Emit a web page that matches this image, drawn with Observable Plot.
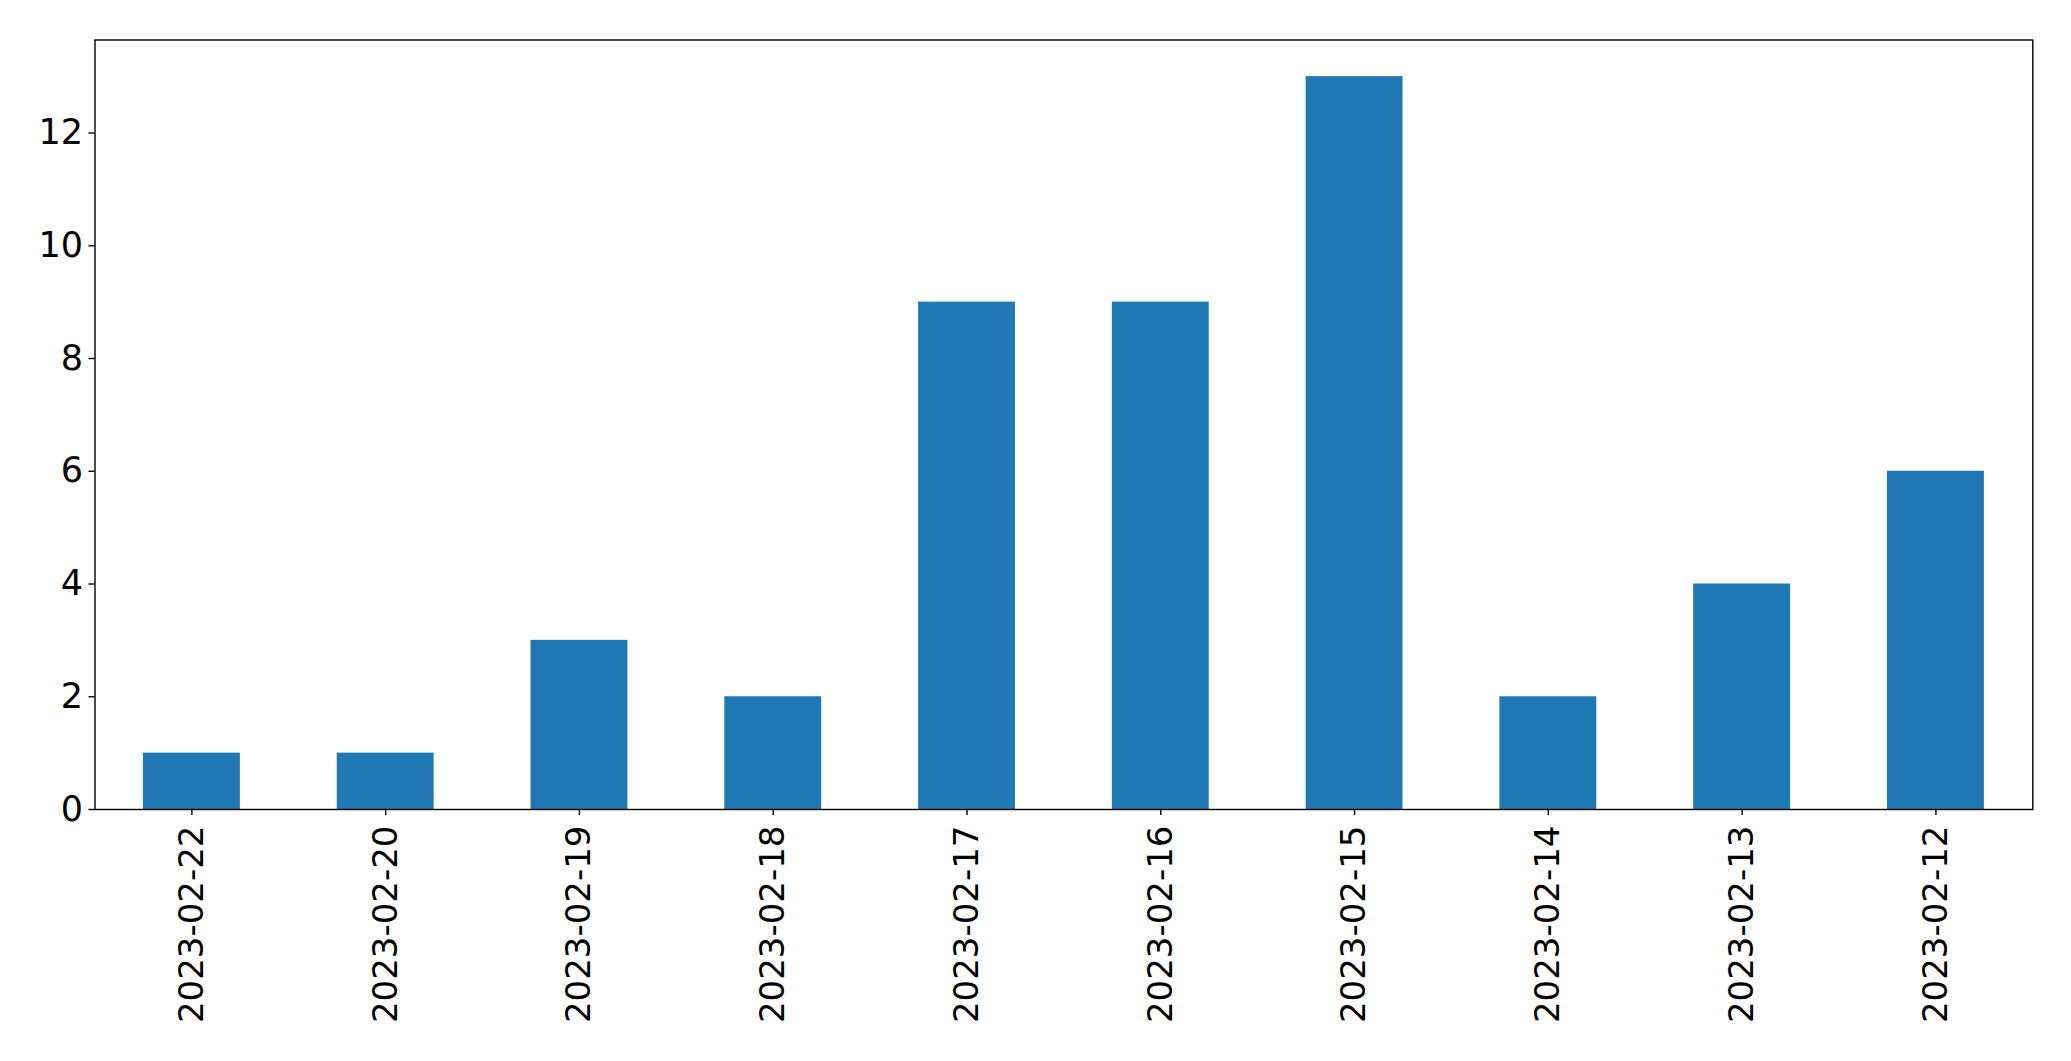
<!DOCTYPE html>
<html>
<head>
<meta charset="utf-8">
<script src="https://cdn.jsdelivr.net/npm/d3@7"></script>
<script src="https://cdn.jsdelivr.net/npm/@observablehq/plot@0.6"></script>
<style>
  html, body { margin: 0; padding: 0; background: #fff; }
  #chart svg { display: block; }
</style>
</head>
<body>
<div id="chart"></div>
<script>
const dates = ["2023-02-22", "2023-02-20", "2023-02-19", "2023-02-18", "2023-02-17",
               "2023-02-16", "2023-02-15", "2023-02-14", "2023-02-13", "2023-02-12"];
const counts = [1, 1, 3, 2, 9, 9, 13, 2, 4, 6];
const yTicks = [0, 2, 4, 6, 8, 10, 12];

const data = dates.map((d, i) => ({date: d, count: counts[i]}));

const chart = Plot.plot({
  width: 2071,
  height: 1061,
  marginLeft: 94.5,
  marginRight: 38.7,
  marginTop: 39.5,
  marginBottom: 252,
  style: {fontFamily: "DejaVu Sans", fontSize: "34px", color: "#000", background: "#fff"},
  x: {domain: dates, paddingInner: 0.5, paddingOuter: 0.25, round: false},
  y: {domain: [0, 13.65]},
  marks: [
    Plot.barY(data, {x: "date", y: "count", fill: "#1f77b4"}),
    Plot.axisY({ticks: yTicks, tickSize: 6, tickPadding: 6, fontSize: 35, label: null, strokeWidth: 1.4}),
    Plot.axisX({tickSize: 6, tickPadding: 10, tickRotate: -90, fontSize: 34, label: null, strokeWidth: 1.4}),
    Plot.frame({stroke: "#000", strokeWidth: 1.4})
  ]
});
document.getElementById("chart").appendChild(chart);
</script>
</body>
</html>
